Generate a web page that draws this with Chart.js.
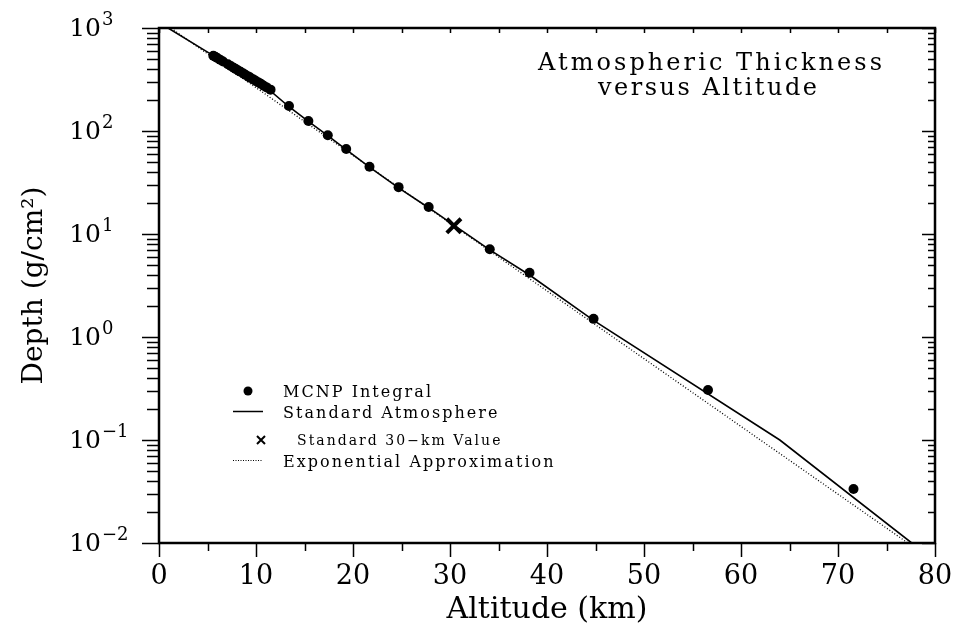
<!DOCTYPE html>
<html>
<head>
<meta charset="utf-8">
<script src="https://cdn.jsdelivr.net/npm/chart.js@4.4.1/dist/chart.umd.min.js"></script>
<style>
html, body { margin: 0; padding: 0; background: #fff; }
canvas { display: block; }
</style>
</head>
<body>
<canvas id="myChart" width="955" height="636"></canvas>
<script>
"use strict";

/* data */

const mcnpAltitude = [5.6, 5.8, 6.0, 6.3, 6.6, 7.1, 7.4, 7.7, 7.9, 8.2, 8.4, 8.7, 8.9, 9.2, 9.4, 9.7, 9.9, 10.2, 10.5, 10.8, 11.1, 11.5,
    13.4, 15.4, 17.4, 19.3, 21.7, 24.7, 27.8, 34.1, 38.2, 44.8, 56.6, 71.6];
const mcnpDepth = [538, 525, 512, 492, 473, 444, 427, 411, 401, 385, 376, 361, 352, 339, 330, 318, 310, 298, 287, 275, 265, 252,
    175, 125, 91, 67, 45, 28.5, 18.3, 7.1, 4.2, 1.5, 0.306, 0.0334];

const stdAltitude = [0, 5.6, 11.0, 13.4, 15.4, 17.4, 19.3, 21.7, 24.7, 27.8, 30.4, 34.1, 38.2, 44.8, 64.0, 77.6];
const stdDepth = [1130, 540, 268, 172, 124, 90, 66, 44.5, 28, 18, 12.2, 7.0, 4.0, 1.45, 0.1, 0.01];

const expAltitude = [0, 77.2];
const expDepth = [1200, 0.01];

const refAltitude = [30.4];
const refDepth = [12];

const xTickValues = [0, 10, 20, 30, 40, 50, 60, 70, 80];
const yExponents = [-2, -1, 0, 1, 2, 3];

const titleLines = ["Atmospheric Thickness", "versus Altitude"];
const legendLabels = ["MCNP Integral", "Standard Atmosphere", "Standard 30\u2212km Value", "Exponential Approximation"];

const serif = "'DejaVu Serif', serif";

function toPoints(xs, ys) {
    return xs.map((v, i) => ({ x: v, y: ys[i] }));
}

// text stretched to a given width, left aligned at x
function spacedText(ctx, text, x, y, width) {
    ctx.letterSpacing = "0px";
    const w = ctx.measureText(text).width;
    const sp = Math.max(0, (width - w) / (text.length - 1));
    ctx.letterSpacing = sp + "px";
    ctx.fillText(text, x, y);
    ctx.letterSpacing = "0px";
    return sp;
}

const decorations = {
    id: "decorations",
    afterDraw(chart) {
        const { ctx, chartArea: a, scales: { x, y } } = chart;
        ctx.save();
        ctx.strokeStyle = "#000";
        ctx.fillStyle = "#000";

        // tick marks
        ctx.lineWidth = 1.5;
        ctx.beginPath();
        yExponents.forEach(e => {
            for (let m = 1; m <= 9; m++) {
                const v = m * Math.pow(10, e);
                if (v > 1000.001) break;
                const py = Math.round(y.getPixelForValue(v)) + 0.5;
                const major = m === 1;
                ctx.moveTo(a.left - (major ? 17 : 12), py);
                ctx.lineTo(a.left, py);
                ctx.moveTo(a.right - (major ? 13 : 7), py);
                ctx.lineTo(a.right, py);
            }
        });
        for (let v = 0; v <= 80; v += 5) {
            const px = Math.round(x.getPixelForValue(v)) + 0.5;
            const major = v % 10 === 0;
            ctx.moveTo(px, a.bottom);
            ctx.lineTo(px, a.bottom + (major ? 14 : 8));
            ctx.moveTo(px, a.top);
            ctx.lineTo(px, a.top + 5);
        }
        ctx.stroke();

        // frame
        ctx.lineWidth = 2.5;
        ctx.strokeRect(a.left, a.top, a.right - a.left, a.bottom - a.top);

        // y tick labels 10^n
        yExponents.forEach(e => {
            const py = y.getPixelForValue(Math.pow(10, e));
            ctx.font = "25px " + serif;
            ctx.textAlign = "right";
            ctx.textBaseline = "middle";
            ctx.fillText("10", 101, py + 1);
            ctx.font = "18px " + serif;
            ctx.textAlign = "left";
            ctx.textBaseline = "alphabetic";
            ctx.fillText(e < 0 ? "\u2212" + (-e) : String(e), 102, py - 3);
        });

        // title inside the plot
        ctx.textAlign = "left";
        ctx.textBaseline = "alphabetic";
        ctx.font = "24px " + serif;
        spacedText(ctx, titleLines[0], 538, 70, 344);
        spacedText(ctx, titleLines[1], 598, 95, 219);

        // legend
        ctx.font = "16px " + serif;
        ctx.letterSpacing = "0px";
        const w0 = ctx.measureText(legendLabels[0]).width;
        const sp = Math.max(0, (148 - w0) / (legendLabels[0].length - 1)) + "px";

        ctx.beginPath();
        ctx.arc(248, 391, 4.5, 0, Math.PI * 2);
        ctx.fill();

        ctx.lineWidth = 1.5;
        ctx.beginPath();
        ctx.moveTo(233, 411.5);
        ctx.lineTo(263, 411.5);
        ctx.stroke();

        ctx.lineWidth = 2;
        ctx.beginPath();
        ctx.moveTo(257, 436);
        ctx.lineTo(265, 444);
        ctx.moveTo(265, 436);
        ctx.lineTo(257, 444);
        ctx.stroke();

        ctx.lineWidth = 1.2;
        ctx.setLineDash([1, 1.5]);
        ctx.beginPath();
        ctx.moveTo(233, 460.5);
        ctx.lineTo(263, 460.5);
        ctx.stroke();
        ctx.setLineDash([]);

        ctx.letterSpacing = sp;
        ctx.fillText(legendLabels[0], 283, 397);
        ctx.fillText(legendLabels[1], 283, 418);
        ctx.fillText(legendLabels[3], 283, 467);
        ctx.font = "14px " + serif;
        ctx.fillText(legendLabels[2], 297, 445);
        ctx.letterSpacing = "0px";

        ctx.restore();
    }
};

const chartDiv = document.getElementById("myChart");

new Chart(chartDiv, {
    type: "scatter",
    data: {
        datasets: [{
            label: legendLabels[2],
            data: toPoints(refAltitude, refDepth),
            pointStyle: "crossRot",
            pointRadius: 10,
            pointBorderWidth: 4,
            borderColor: "#000",
            backgroundColor: "#000"
        }, {
            label: legendLabels[0],
            data: toPoints(mcnpAltitude, mcnpDepth),
            pointStyle: "circle",
            pointRadius: 5,
            pointBorderWidth: 0,
            borderColor: "#000",
            backgroundColor: "#000"
        }, {
            label: legendLabels[1],
            data: toPoints(stdAltitude, stdDepth),
            showLine: true,
            pointRadius: 0,
            borderWidth: 1.6,
            borderColor: "#000"
        }, {
            label: legendLabels[3],
            data: toPoints(expAltitude, expDepth),
            showLine: true,
            pointRadius: 0,
            borderWidth: 1.3,
            borderDash: [1, 2],
            borderColor: "#000"
        }]
    },
    options: {
        responsive: false,
        animation: false,
        layout: { padding: { top: 28, right: 20, left: 0, bottom: 0 } },
        plugins: {
            legend: { display: false },
            tooltip: { enabled: false }
        },
        scales: {
            x: {
                type: "linear",
                min: 0,
                max: 80,
                afterBuildTicks: (s) => { s.ticks = xTickValues.map(v => ({ value: v })); },
                afterFit: (s) => { s.height = 93; s.paddingLeft = 0; s.paddingRight = 0; },
                grid: { display: false, drawTicks: false },
                border: { display: false },
                ticks: {
                    color: "#000",
                    padding: 18,
                    maxRotation: 0,
                    font: { family: serif, size: 27 }
                },
                title: {
                    display: true,
                    text: "Altitude (km)",
                    color: "#000",
                    font: { family: serif, size: 30 },
                    padding: { top: 0, bottom: 8 }
                }
            },
            y: {
                type: "logarithmic",
                min: 0.01,
                max: 1000,
                afterFit: (s) => { s.width = 159; s.paddingTop = 0; s.paddingBottom = 0; },
                grid: { display: false, drawTicks: false },
                border: { display: false },
                ticks: { display: false },
                title: {
                    display: true,
                    text: "Depth (g/cm\u00b2)",
                    color: "#000",
                    font: { family: serif, size: 28 },
                    padding: { top: 18, bottom: 0 }
                }
            }
        }
    },
    plugins: [decorations]
});
</script>
</body>
</html>
